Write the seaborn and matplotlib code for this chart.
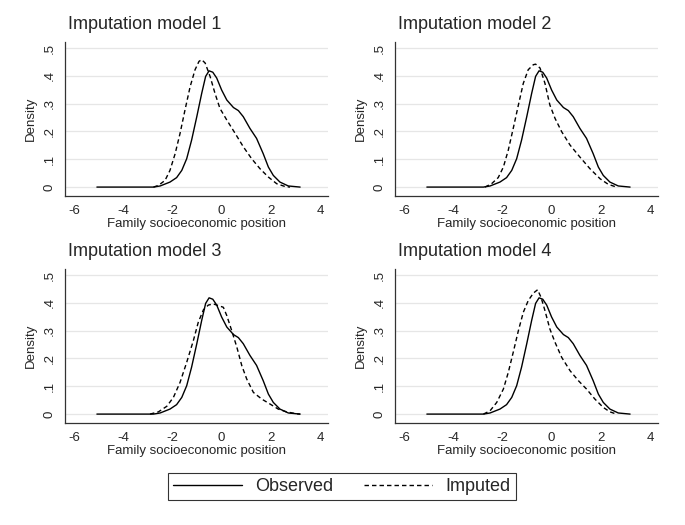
import numpy as np
import pandas as pd
import matplotlib
matplotlib.use("Agg")
import matplotlib.pyplot as plt
import seaborn as sns
from matplotlib.lines import Line2D

# Observed density (same in every panel)
obs_x = [-5.07, -2.77, -2.5, -2.1, -1.83, -1.62, -1.42, -1.22, -1.01, -0.81, -0.65,
         -0.51, -0.36, -0.2, 0.0, 0.21, 0.48, 0.68, 0.88, 1.15, 1.42, 1.69, 1.9,
         2.1, 2.37, 2.71, 3.19]
obs_y = [0.0, 0.0, 0.004, 0.018, 0.034, 0.06, 0.102, 0.169, 0.253, 0.337, 0.398,
         0.418, 0.413, 0.392, 0.349, 0.313, 0.286, 0.275, 0.253, 0.211, 0.175, 0.12, 0.072,
         0.042, 0.018, 0.004, 0.0]

# Imputed densities, one per model
imp1_x = [-2.77, -2.57, -2.3, -2.1, -1.89, -1.69, -1.49, -1.28, -1.08, -0.92, -0.81,
          -0.67, -0.47, -0.27, -0.07, 0.21, 0.55, 0.88, 1.22, 1.56, 1.9, 2.24, 2.58, 2.78]
imp1_y = [0.0, 0.006, 0.024, 0.06, 0.12, 0.193, 0.277, 0.361, 0.422, 0.452, 0.458,
          0.446, 0.398, 0.337, 0.283, 0.241, 0.193, 0.145, 0.102, 0.066, 0.036, 0.012, 0.002, 0.0]

imp2_x = [-2.71, -2.44, -2.17, -1.96, -1.76, -1.56, -1.35, -1.15, -0.95, -0.74, -0.65,
          -0.47, -0.27, -0.07, 0.14, 0.41, 0.75, 1.15, 1.56, 1.97, 2.3, 2.64]
imp2_y = [0.0, 0.012, 0.034, 0.072, 0.133, 0.211, 0.295, 0.373, 0.422, 0.44, 0.442,
          0.428, 0.373, 0.295, 0.247, 0.199, 0.151, 0.108, 0.066, 0.03, 0.01, 0.0]

imp3_x = [-2.91, -2.57, -2.23, -1.96, -1.69, -1.42, -1.15, -0.95, -0.74, -0.54, -0.34,
          -0.13, 0.07, 0.21, 0.41, 0.62, 0.82, 1.02, 1.29, 1.63, 1.97, 2.3, 2.64, 3.05, 3.19]
imp3_y = [0.0, 0.008, 0.028, 0.06, 0.114, 0.186, 0.264, 0.33, 0.375, 0.392, 0.396,
          0.39, 0.384, 0.354, 0.3, 0.24, 0.174, 0.126, 0.078, 0.054, 0.036, 0.018, 0.008, 0.001, 0.0]

imp4_x = [-2.77, -2.5, -2.23, -1.96, -1.76, -1.56, -1.35, -1.15, -0.95, -0.74, -0.57,
          -0.43, -0.27, -0.07, 0.14, 0.41, 0.75, 1.09, 1.42, 1.76, 2.1, 2.37, 2.64]
imp4_y = [0.0, 0.012, 0.042, 0.09, 0.15, 0.222, 0.3, 0.366, 0.408, 0.435, 0.447,
          0.42, 0.372, 0.306, 0.258, 0.204, 0.156, 0.12, 0.09, 0.054, 0.024, 0.008, 0.0]

titles = ["Imputation model 1", "Imputation model 2", "Imputation model 3", "Imputation model 4"]
imputed = [(imp1_x, imp1_y), (imp2_x, imp2_y), (imp3_x, imp3_y), (imp4_x, imp4_y)]
x_ticks = [-6, -4, -2, 0, 2, 4]
y_ticks = [0, 0.1, 0.2, 0.3, 0.4, 0.5]
y_labels = ["0", ".1", ".2", ".3", ".4", ".5"]

sns.set_style("white")
plt.rcParams['font.family'] = ['Liberation Sans', 'DejaVu Sans']

fig = plt.figure(figsize=(6.85, 5.25), dpi=100)
fig.patch.set_facecolor("white")

# axes rectangles (left, bottom, width, height) in figure fractions
positions = [
    (0.0949, 0.6267, 0.384, 0.2933),
    (0.5766, 0.6267, 0.384, 0.2933),
    (0.0949, 0.1943, 0.384, 0.2933),
    (0.5766, 0.1943, 0.384, 0.2933),
]

dash = (0, (3.2, 2.2))

for pos, title, (ix, iy) in zip(positions, titles, imputed):
    ax = fig.add_axes(pos)
    for yv in y_ticks:
        ax.axhline(yv, color="#e6e6e6", lw=0.9, zorder=0)
    sns.lineplot(x=obs_x, y=obs_y, ax=ax, color="black", lw=1.0,
                 sort=False, estimator=None)
    sns.lineplot(x=ix, y=iy, ax=ax, color="black", lw=1.0,
                 sort=False, estimator=None, linestyle=dash)
    ax.set_xlim(-6.366, 4.325)
    ax.set_ylim(-0.032, 0.5216)
    ax.set_xticks(x_ticks)
    ax.set_xticklabels([str(t) for t in x_ticks], fontsize=9.5)
    ax.set_yticks(y_ticks)
    ax.set_yticklabels(y_labels, rotation=90, va="center", fontsize=9.5)
    ax.tick_params(direction="out", length=4, width=0.8, color="#333333", pad=2.5)
    ax.tick_params(axis="y", pad=2.5)
    for s in ["top", "right"]:
        ax.spines[s].set_visible(False)
    for s in ["left", "bottom"]:
        ax.spines[s].set_color("#333333")
        ax.spines[s].set_linewidth(0.9)
    ax.set_xlabel("Family socioeconomic position", fontsize=9.5, labelpad=1)
    ax.set_ylabel("Density", fontsize=9.5, labelpad=5)
    ax.text(0.01, 1.06, title, transform=ax.transAxes, fontsize=13,
            ha="left", va="bottom")

handles = [Line2D([], [], color="black", lw=1.0),
           Line2D([], [], color="black", lw=1.0, linestyle=dash)]
leg = fig.legend(handles, ["Observed", "Imputed"], loc="center",
                 bbox_to_anchor=(0.4993, 0.0733), ncol=2, fontsize=13,
                 handlelength=3.8, handletextpad=0.72, columnspacing=1.7,
                 frameon=True, fancybox=False, borderpad=0.3)
leg.get_frame().set_edgecolor("black")
leg.get_frame().set_linewidth(0.8)

fig.savefig("out.png", dpi=100)
